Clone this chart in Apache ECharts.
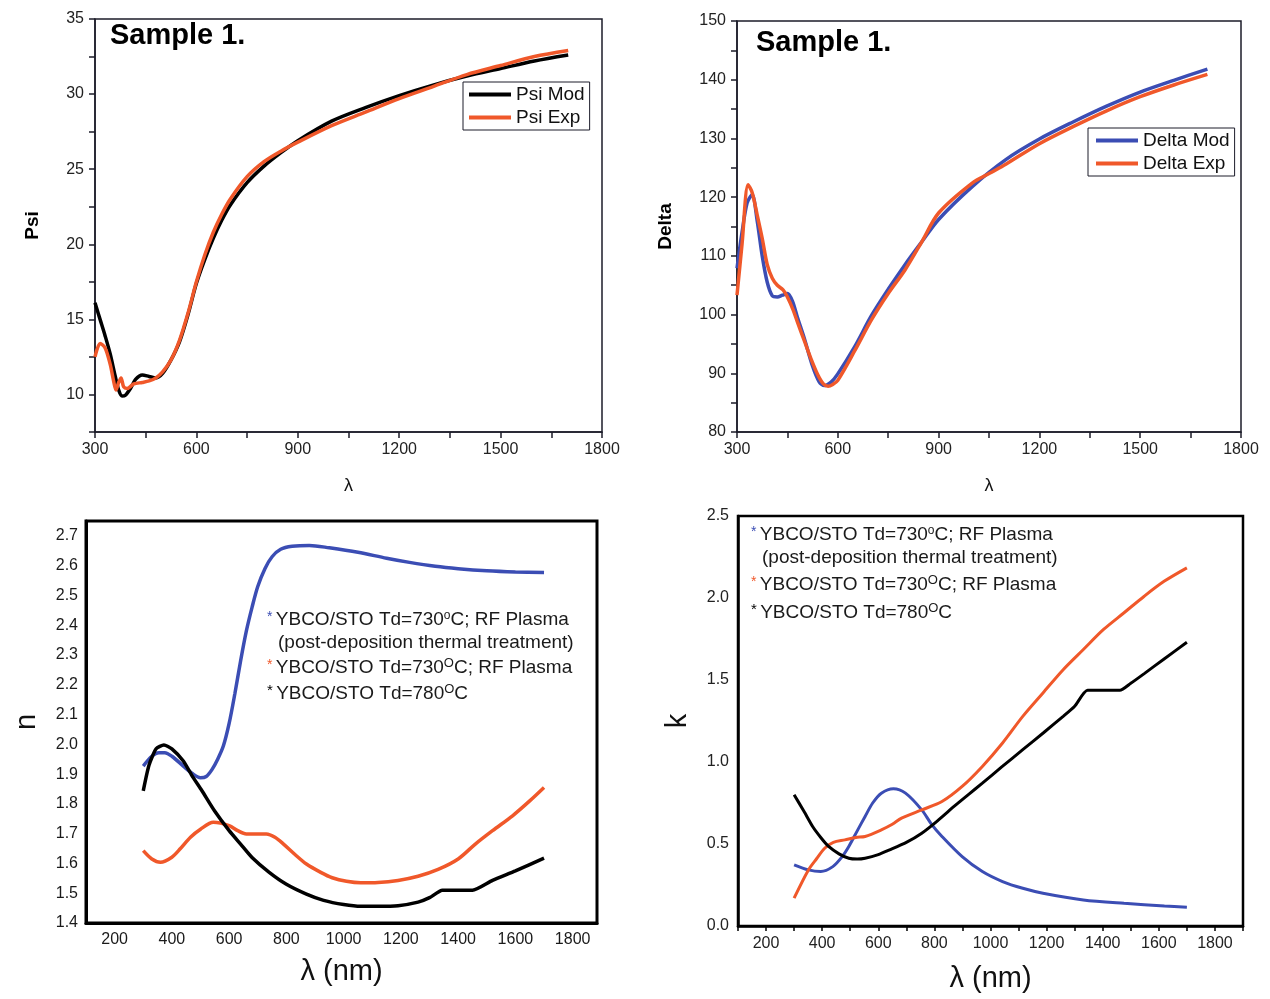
<!DOCTYPE html>
<html>
<head>
<meta charset="utf-8">
<script src="https://cdn.jsdelivr.net/npm/echarts@6.0.0/dist/echarts.min.js"></script>
<style>
html, body { margin: 0; padding: 0; background: #fff; }
#chart { width: 1270px; height: 999px; }
</style>
</head>
<body>
<div id="chart"></div>
<script>
// ---- data ----
let psiModLambda = [300, 315, 330, 345, 360, 370, 380, 390, 405, 420, 440, 460, 480, 500, 525, 550, 575, 600, 625, 650, 675, 700, 750, 800, 850, 900, 1000, 1100, 1200, 1300, 1400, 1500, 1600, 1700];
let psiMod = [16.1, 15.0, 13.9, 12.7, 11.2, 10.3, 9.9, 9.95, 10.4, 11.0, 11.3, 11.2, 11.1, 11.4, 12.3, 13.5, 15.3, 17.4, 19.0, 20.4, 21.6, 22.6, 24.1, 25.2, 26.1, 26.9, 28.2, 29.1, 29.9, 30.6, 31.2, 31.7, 32.2, 32.6];

let psiExpLambda = [300, 315, 330, 345, 355, 362, 370, 377, 385, 395, 415, 440, 460, 480, 500, 525, 550, 575, 600, 625, 650, 675, 700, 750, 800, 850, 900, 1000, 1100, 1200, 1300, 1400, 1500, 1600, 1700];
let psiExp = [12.5, 13.4, 13.1, 12.0, 10.9, 10.3, 10.8, 11.1, 10.5, 10.4, 10.7, 10.8, 10.9, 11.1, 11.5, 12.3, 13.6, 15.4, 17.5, 19.3, 20.8, 22.0, 23.0, 24.5, 25.5, 26.2, 26.8, 27.9, 28.8, 29.7, 30.5, 31.3, 31.9, 32.5, 32.9];

let deltaModLambda = [300, 315, 330, 345, 360, 375, 390, 405, 420, 435, 450, 465, 480, 500, 525, 545, 560, 580, 600, 650, 700, 750, 800, 850, 900, 1000, 1100, 1200, 1300, 1400, 1500, 1600, 1700];
let deltaMod = [107.9, 114.0, 119.0, 120.4, 116.0, 110.0, 105.5, 103.2, 103.0, 103.3, 103.6, 102.3, 99.5, 96.0, 91.2, 88.5, 87.9, 88.5, 89.9, 94.5, 99.8, 104.3, 108.5, 112.4, 116.2, 121.8, 126.4, 129.9, 132.8, 135.5, 137.9, 139.9, 141.8];

let deltaExpLambda = [300, 315, 333, 345, 360, 375, 390, 405, 420, 437, 450, 467, 480, 500, 520, 540, 557, 571, 585, 600, 650, 700, 750, 800, 850, 900, 1000, 1053, 1100, 1200, 1300, 1400, 1500, 1600, 1700];
let deltaExp = [103.3, 112.0, 122.1, 120.8, 117.0, 113.0, 108.5, 106.2, 105.0, 104.2, 103.0, 100.8, 98.7, 95.6, 92.5, 89.8, 88.2, 87.8, 88.1, 88.8, 93.8, 99.1, 103.6, 107.6, 112.4, 117.3, 122.4, 124.1, 125.6, 129.1, 132.0, 134.7, 137.1, 139.1, 140.9];

let nPostLambda = [300, 330, 355, 375, 400, 440, 470, 500, 520, 540, 560, 580, 600, 620, 640, 660, 680, 700, 725, 750, 780, 820, 880, 950, 1050, 1150, 1230, 1320, 1400, 1500, 1600, 1700];
let nPost = [1.927, 1.96, 1.972, 1.972, 1.96, 1.927, 1.903, 1.888, 1.892, 1.915, 1.95, 1.995, 2.07, 2.17, 2.28, 2.38, 2.46, 2.53, 2.59, 2.63, 2.655, 2.665, 2.668, 2.66, 2.645, 2.625, 2.611, 2.598, 2.59, 2.583, 2.579, 2.577];

let nPlasmaLambda = [300, 330, 360, 400, 430, 465, 500, 545, 600, 630, 660, 700, 730, 760, 790, 830, 870, 920, 960, 1010, 1060, 1120, 1190, 1260, 1330, 1400, 1460, 1520, 1590, 1650, 1700];
let nPlasma = [1.643, 1.615, 1.604, 1.621, 1.65, 1.688, 1.715, 1.738, 1.727, 1.71, 1.699, 1.699, 1.699, 1.688, 1.665, 1.63, 1.598, 1.57, 1.552, 1.54, 1.535, 1.536, 1.543, 1.557, 1.58, 1.615, 1.665, 1.71, 1.76, 1.81, 1.855];

let n780Lambda = [300, 320, 345, 372, 400, 440, 470, 505, 550, 600, 640, 680, 740, 800, 870, 930, 1000, 1060, 1120, 1190, 1260, 1300, 1345, 1450, 1520, 1600, 1700];
let n780 = [1.844, 1.93, 1.985, 1.998, 1.985, 1.944, 1.895, 1.844, 1.775, 1.71, 1.665, 1.62, 1.57, 1.53, 1.497, 1.476, 1.462, 1.456, 1.456, 1.458, 1.47, 1.485, 1.51, 1.51, 1.543, 1.575, 1.618];

let kPostLambda = [300, 351, 395, 438, 470, 495, 525, 553, 580, 611, 654, 697, 755, 790, 827, 899, 971, 1043, 1115, 1187, 1331, 1476, 1620, 1700];
let kPost = [0.373, 0.342, 0.332, 0.362, 0.42, 0.485, 0.58, 0.668, 0.75, 0.81, 0.837, 0.81, 0.708, 0.62, 0.546, 0.423, 0.332, 0.271, 0.23, 0.2, 0.159, 0.138, 0.122, 0.114];

let kPlasmaLambda = [300, 351, 380, 409, 440, 481, 520, 553, 611, 650, 683, 755, 827, 899, 971, 1043, 1115, 1187, 1259, 1331, 1403, 1476, 1548, 1620, 1700];
let kPlasma = [0.17, 0.342, 0.41, 0.474, 0.51, 0.525, 0.54, 0.546, 0.586, 0.62, 0.658, 0.708, 0.759, 0.851, 0.973, 1.116, 1.278, 1.421, 1.563, 1.686, 1.808, 1.91, 2.011, 2.103, 2.184];

let k780Lambda = [300, 335, 366, 395, 423, 460, 495, 525, 553, 600, 640, 700, 755, 810, 870, 920, 971, 1040, 1115, 1190, 1259, 1300, 1346, 1461, 1500, 1548, 1620, 1700];
let k780 = [0.80, 0.70, 0.607, 0.54, 0.485, 0.44, 0.413, 0.408, 0.413, 0.435, 0.464, 0.51, 0.566, 0.64, 0.729, 0.80, 0.871, 0.97, 1.075, 1.18, 1.278, 1.34, 1.437, 1.437, 1.48, 1.539, 1.63, 1.73];

// ---- styling ----
let font = 'Liberation Sans, Arial, Helvetica, sans-serif';
let orange = '#f0582a';
let blue = '#3b4db4';
let frame = '#1c1c2a';

function pairs(xs, ys) {
    return xs.map(function (x, i) { return [x, ys[i]]; });
}

function lineSeries(name, xs, ys, color, width, idx, smooth) {
    return {
        name: name,
        type: 'line',
        xAxisIndex: idx,
        yAxisIndex: idx,
        data: pairs(xs, ys),
        showSymbol: false,
        smooth: smooth === undefined ? 0.3 : smooth,
        lineStyle: {color: color, width: width},
        itemStyle: {color: color},
        z: 3
    };
}

function xAxisTop(idx, gap) {
    return {
        type: 'value', gridIndex: idx, min: 300, max: 1800, interval: 150,
        name: 'λ', nameLocation: 'middle', nameGap: gap,
        nameTextStyle: {fontFamily: font, fontSize: 18, color: '#111'},
        axisLine: {lineStyle: {color: frame, width: 1.5}},
        axisTick: {length: 6, lineStyle: {color: frame, width: 1.5}},
        axisLabel: {
            margin: 10, fontFamily: font, fontSize: 16, color: '#222',
            formatter: function (v) { return v % 300 === 0 ? v : ''; }
        },
        splitLine: {show: false}
    };
}

let chart = echarts.init(document.getElementById('chart'));

let supRich = {
    t: {fontFamily: font, fontSize: 19, fill: '#1a1a1a'},
    sup: {fontFamily: font, fontSize: 12, fill: '#1a1a1a', verticalAlign: 'top', padding: [0, 0, 9, 0]},
    supO: {fontFamily: font, fontSize: 13, fill: '#1a1a1a', verticalAlign: 'top', padding: [0, 0, 9, 0]},
    sb: {fontFamily: font, fontSize: 14, fill: blue, padding: [0, 0, 6, 0]},
    so: {fontFamily: font, fontSize: 14, fill: orange, padding: [0, 0, 6, 0]},
    sk: {fontFamily: font, fontSize: 15, fill: '#000', padding: [0, 0, 6, 0]}
};

function legendText(x, y, text) {
    return {
        type: 'text', x: x, y: y, z: 10,
        style: {text: text, rich: supRich, verticalAlign: 'middle', align: 'left'}
    };
}

function legendBlock(x, y0, gaps) {
    return [
        legendText(x, y0, '{sb|*} {t|YBCO/STO Td=730}{sup|o}{t|C; RF Plasma}'),
        legendText(x + 11, y0 + gaps[0], '{t|(post-deposition thermal treatment)}'),
        legendText(x, y0 + gaps[1], '{so|*} {t|YBCO/STO Td=730}{supO|O}{t|C; RF Plasma}'),
        legendText(x, y0 + gaps[2], '{sk|*} {t|YBCO/STO Td=780}{supO|O}{t|C}')
    ];
}

let option = {
    backgroundColor: '#ffffff',
    animation: false,
    textStyle: {fontFamily: font},
    grid: [
        {left: 95, top: 19, width: 507, height: 413, show: true, borderColor: frame, borderWidth: 1.5},
        {left: 737, top: 21, width: 504, height: 411, show: true, borderColor: frame, borderWidth: 1.5},
        {left: 86, top: 521, width: 511, height: 402, show: true, borderColor: '#000', borderWidth: 3},
        {left: 738, top: 516, width: 505, height: 410, show: true, borderColor: '#000', borderWidth: 2.5}
    ],
    legend: [
        {
            left: 463, top: 82, orient: 'vertical', data: ['Psi Mod', 'Psi Exp'],
            icon: 'rect', itemWidth: 42, itemHeight: 4, itemGap: 4,
            padding: [3, 5, 3, 6], borderColor: frame, borderWidth: 1, backgroundColor: '#fff',
            textStyle: {fontFamily: font, fontSize: 19, color: '#111'}
        },
        {
            left: 1088, top: 128, orient: 'vertical', data: ['Delta Mod', 'Delta Exp'],
            icon: 'rect', itemWidth: 42, itemHeight: 4, itemGap: 4,
            padding: [3, 5, 3, 8], borderColor: frame, borderWidth: 1, backgroundColor: '#fff',
            textStyle: {fontFamily: font, fontSize: 19, color: '#111'}
        }
    ],
    xAxis: [
        xAxisTop(0, 45),
        xAxisTop(1, 45),
        {
            type: 'value', gridIndex: 2, min: 100, max: 1885, interval: 100,
            name: 'λ (nm)', nameLocation: 'middle', nameGap: 34,
            nameTextStyle: {fontFamily: font, fontSize: 29, color: '#111'},
            axisLine: {lineStyle: {color: '#000', width: 3}},
            axisTick: {show: false},
            axisLabel: {
                margin: 9, fontFamily: font, fontSize: 16, color: '#1a1a1a',
                formatter: function (v) { return (v % 200 === 0 && v >= 200 && v <= 1800) ? v : ''; }
            },
            splitLine: {show: false}
        },
        {
            type: 'value', gridIndex: 3, min: 100, max: 1900, interval: 100,
            name: 'λ (nm)', nameLocation: 'middle', nameGap: 38,
            nameTextStyle: {fontFamily: font, fontSize: 29, color: '#111'},
            axisLine: {lineStyle: {color: '#000', width: 2.5}},
            axisTick: {length: 5, lineStyle: {color: '#000', width: 1.5}},
            axisLabel: {
                margin: 10, fontFamily: font, fontSize: 16, color: '#222',
                formatter: function (v) { return (v % 200 === 0 && v >= 200 && v <= 1800) ? v : ''; }
            },
            splitLine: {show: false}
        }
    ],
    yAxis: [
        {
            type: 'value', gridIndex: 0, min: 7.5, max: 35, interval: 2.5,
            name: 'Psi', nameLocation: 'middle', nameGap: 53,
            nameTextStyle: {fontFamily: font, fontSize: 19, fontWeight: 'bold', color: '#000'},
            axisLine: {lineStyle: {color: frame, width: 1.5}},
            axisTick: {length: 6, lineStyle: {color: frame, width: 1.5}},
            axisLabel: {
                margin: 11, fontFamily: font, fontSize: 16, color: '#222',
                formatter: function (v) { return (v % 5 === 0) ? v : ''; }
            },
            splitLine: {show: false}
        },
        {
            type: 'value', gridIndex: 1, min: 80, max: 150, interval: 5,
            name: 'Delta', nameLocation: 'middle', nameGap: 62,
            nameTextStyle: {fontFamily: font, fontSize: 19, fontWeight: 'bold', color: '#000'},
            axisLine: {lineStyle: {color: frame, width: 1.5}},
            axisTick: {length: 6, lineStyle: {color: frame, width: 1.5}},
            axisLabel: {
                margin: 11, fontFamily: font, fontSize: 16, color: '#222',
                formatter: function (v) { return (v % 10 === 0) ? v : ''; }
            },
            splitLine: {show: false}
        },
        {
            type: 'value', gridIndex: 2, min: 1.4, max: 2.75, interval: 0.1,
            name: 'n', nameLocation: 'middle', nameGap: 45,
            nameTextStyle: {fontFamily: font, fontSize: 29, color: '#111'},
            axisLine: {lineStyle: {color: '#000', width: 3}},
            axisTick: {show: false},
            axisLabel: {
                margin: 8, fontFamily: font, fontSize: 16, color: '#1a1a1a', showMaxLabel: false,
                formatter: function (v) { return v.toFixed(1); }
            },
            splitLine: {show: false}
        },
        {
            type: 'value', gridIndex: 3, min: 0, max: 2.5, interval: 0.5,
            name: 'k', nameLocation: 'middle', nameGap: 46,
            nameTextStyle: {fontFamily: font, fontSize: 29, color: '#111'},
            axisLine: {lineStyle: {color: '#000', width: 2.5}},
            axisTick: {show: false},
            axisLabel: {
                margin: 9, fontFamily: font, fontSize: 16, color: '#222',
                formatter: function (v) { return v.toFixed(1); }
            },
            splitLine: {show: false}
        }
    ],
    series: [
        lineSeries('Psi Mod', psiModLambda, psiMod, '#000000', 3.5, 0),
        lineSeries('Psi Exp', psiExpLambda, psiExp, orange, 3.5, 0),
        lineSeries('Delta Mod', deltaModLambda, deltaMod, blue, 3.5, 1),
        lineSeries('Delta Exp', deltaExpLambda, deltaExp, orange, 3.5, 1),
        lineSeries('n post', nPostLambda, nPost, blue, 3.5, 2),
        lineSeries('n plasma', nPlasmaLambda, nPlasma, orange, 3.5, 2),
        lineSeries('n 780', n780Lambda, n780, '#000000', 3.5, 2, 0.2),
        lineSeries('k post', kPostLambda, kPost, blue, 3, 3),
        lineSeries('k plasma', kPlasmaLambda, kPlasma, orange, 3, 3),
        lineSeries('k 780', k780Lambda, k780, '#000000', 3, 3, 0.2)
    ],
    graphic: [
        {
            type: 'text', x: 110, y: 36, z: 10,
            style: {text: 'Sample 1.', fontFamily: font, fontSize: 29, fontWeight: 'bold', fill: '#000', verticalAlign: 'middle'}
        },
        {
            type: 'text', x: 756, y: 43, z: 10,
            style: {text: 'Sample 1.', fontFamily: font, fontSize: 29, fontWeight: 'bold', fill: '#000', verticalAlign: 'middle'}
        }
    ].concat(legendBlock(267, 620, [23, 48, 74])).concat(legendBlock(751, 535, [23, 50, 78]))
};

chart.setOption(option);
</script>
</body>
</html>
